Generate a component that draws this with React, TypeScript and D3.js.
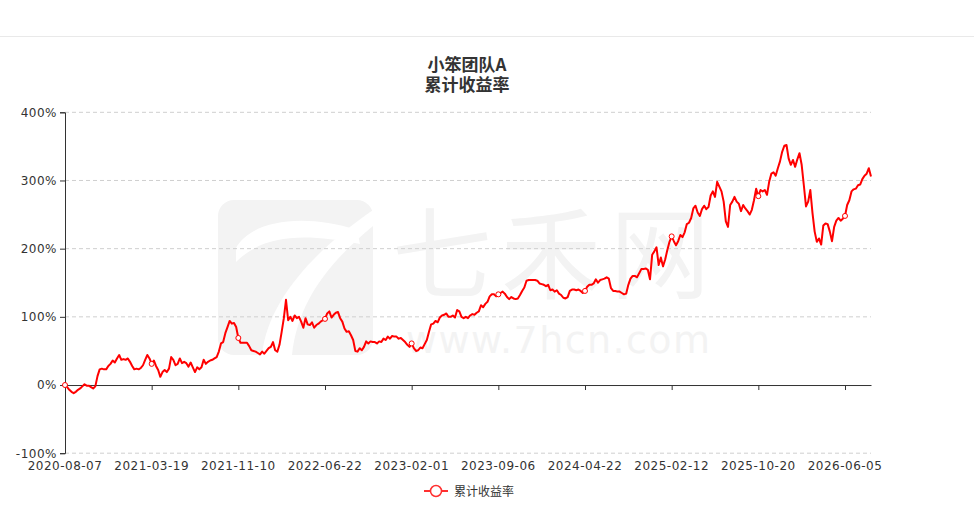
import { useEffect, useRef } from "react"
import * as d3 from "d3"

// axis labels shown every `tickEvery` categories (ECharts-style category axis)
const tickLabels = [
  "2020-08-07",
  "2021-03-19",
  "2021-11-10",
  "2022-06-22",
  "2023-02-01",
  "2023-09-06",
  "2024-04-22",
  "2025-02-12",
  "2025-10-20",
  "2026-06-05",
]
const tickEvery = 40

// cumulative return, %
const returns = [
  0, -3, -7, -10, -12, -10, -7, -5, -2, 1,
  -1, -1, -3, -5, -2, 13, 23, 24, 23, 23,
  28, 31, 36, 33, 39, 44, 37, 38, 37, 39,
  34, 28, 23, 24, 23, 25, 29, 37, 44, 39,
  31, 36, 28, 22, 12, 19, 22, 19, 24, 41,
  37, 29, 31, 39, 32, 34, 32, 27, 33, 26,
  19, 26, 23, 26, 37, 31, 34, 36, 37, 39,
  41, 49, 61, 63, 76, 85, 94, 90, 91, 85,
  69, 62, 62, 62, 62, 57, 51, 50, 49, 47,
  45, 49, 46, 50, 54, 56, 63, 51, 49, 59,
  78, 98, 125, 95, 100, 94, 102, 98, 100, 93,
  84, 98, 89, 88, 92, 84, 88, 90, 93, 95,
  97, 105, 108, 99, 103, 106, 107, 98, 93, 83,
  78, 79, 73, 66, 50, 49, 54, 51, 56, 64,
  61, 64, 63, 63, 61, 64, 63, 68, 66, 71,
  68, 72, 71, 71, 68, 69, 66, 63, 59, 56,
  61, 54, 50, 51, 55, 54, 60, 66, 78, 89,
  90, 94, 92, 99, 102, 103, 105, 100, 100, 102,
  99, 110, 108, 100, 98, 100, 98, 102, 104, 103,
  106, 108, 117, 114, 119, 122, 130, 133, 133, 130,
  133, 135, 137, 134, 129, 126, 129, 127, 126, 127,
  132, 138, 143, 153, 154, 154, 154, 154, 153, 149,
  148, 147, 145, 147, 139, 140, 137, 139, 134, 132,
  128, 127, 129, 138, 140, 140, 139, 140, 138, 135,
  138, 144, 147, 147, 149, 155, 150, 154, 155, 156,
  158, 156, 142, 138, 138, 137, 137, 135, 133, 134,
  147, 156, 160, 160, 158, 164, 170, 170, 171, 169,
  155, 191, 196, 202, 176, 187, 174, 184, 198, 210,
  218, 211, 205, 211, 220, 217, 224, 236, 238, 245,
  259, 263, 253, 248, 258, 263, 258, 261, 278, 284,
  276, 298, 291, 284, 269, 240, 232, 264, 269, 276,
  269, 266, 255, 264, 259, 255, 250, 257, 271, 288,
  277, 286, 284, 286, 279, 298, 310, 312, 307, 318,
  328, 342, 351, 352, 332, 323, 330, 320, 331, 340,
  323, 293, 262, 269, 286, 252, 225, 210, 215, 206,
  234, 237, 236, 225, 211, 232, 241, 245, 241, 244,
  248, 264, 271, 284, 287, 288, 293, 294, 302, 307,
  310, 318, 306,
]

const yTicks = [-100, 0, 100, 200, 300, 400]
const seriesName = "累计收益率"
const titleLines = ["小笨团队A", "累计收益率"]

export default function App() {
  const svgRef = useRef<SVGSVGElement>(null)

  useEffect(() => {
    if (!svgRef.current) return
    const W = 974
    const H = 513
    const left = 65
    const right = 871
    const top = 112.3
    const bottom = 453.2
    const font = "'DejaVu Sans', 'Noto Sans CJK SC', sans-serif"
    const cjk = "'Noto Sans CJK SC', sans-serif"

    const svg = d3.select(svgRef.current)
    svg.selectAll("*").remove()
    svg.attr("width", W).attr("height", H).style("font-family", font)

    // top separator
    svg.append("line")
      .attr("x1", 0).attr("x2", W).attr("y1", 36.5).attr("y2", 36.5)
      .attr("stroke", "#e9e9e9")

    // watermark
    const wm = svg.append("g")
    wm.append("rect")
      .attr("x", 218).attr("y", 200).attr("width", 155).attr("height", 155)
      .attr("rx", 16).attr("fill", "#f3f3f3")
    wm.append("path")
      .attr("d", "M236,248 C250,222 300,212 357,230 L360,244 C300,232 262,236 236,262 Z")
      .attr("fill", "#fff")
    wm.append("path")
      .attr("d", "M373,226 C330,262 298,300 292,355 L262,355 C268,298 318,248 373,210 Z")
      .attr("fill", "#fff")
    wm.append("text")
      .attr("x", 392).attr("y", 291)
      .attr("font-size", 100)
      .attr("font-family", cjk)
      .attr("textLength", 318)
      .attr("fill", "#f3f3f3")
      .text("七禾网")
    wm.append("text")
      .attr("x", 406).attr("y", 353)
      .attr("font-size", 38)
      .attr("textLength", 304)
      .attr("fill", "#f3f3f3")
      .text("www.7hcn.com")

    const x = d3.scaleLinear().domain([0, returns.length - 1]).range([left, right])
    const y = d3.scaleLinear().domain([-100, 400]).range([bottom, top])

    // grid
    svg.append("g")
      .selectAll("line")
      .data(yTicks.filter((t) => t !== 0))
      .join("line")
      .attr("x1", left).attr("x2", right)
      .attr("y1", (d) => y(d)).attr("y2", (d) => y(d))
      .attr("stroke", "#cfcfcf")
      .attr("stroke-dasharray", "4,3")

    // y axis
    const yAxis = svg.append("g")
      .attr("transform", `translate(${left},0)`)
      .call(d3.axisLeft(y).tickValues(yTicks).tickSize(5).tickPadding(3).tickFormat((d) => `${d}%`))
    yAxis.select(".domain").attr("stroke", "#333")
    yAxis.selectAll(".tick line").attr("stroke", "#333")
    yAxis.selectAll("text")
      .attr("fill", "#333").attr("font-size", 12)
      .style("letter-spacing", "0.5px")
      .attr("font-family", font)

    // x axis
    const tickIdx = tickLabels.map((_, i) => i * tickEvery)
    const xAxis = svg.append("g")
      .attr("transform", `translate(0,${y(0)})`)
      .call(
        d3.axisBottom(x)
          .tickValues(tickIdx)
          .tickSize(5)
          .tickSizeOuter(0)
          .tickFormat((d, i) => tickLabels[i])
      )
    xAxis.select(".domain").attr("stroke", "#333")
    xAxis.selectAll(".tick line").attr("stroke", "#333")
    xAxis.selectAll("text").remove()

    svg.append("g")
      .selectAll("text")
      .data(tickIdx)
      .join("text")
      .attr("x", (d) => x(d))
      .attr("y", 470)
      .attr("text-anchor", "middle")
      .attr("font-size", 12)
      .attr("fill", "#333")
      .style("letter-spacing", "0.5px")
      .text((d, i) => tickLabels[i])

    // line
    const line = d3.line<number>()
      .x((d, i) => x(i))
      .y((d) => y(d))
    svg.append("path")
      .datum(returns)
      .attr("d", line)
      .attr("fill", "none")
      .attr("stroke", "#ff0000")
      .attr("stroke-width", 2)
      .attr("stroke-linejoin", "round")

    svg.append("g")
      .selectAll("circle")
      .data(tickIdx)
      .join("circle")
      .attr("cx", (d) => x(d))
      .attr("cy", (d) => y(returns[d]))
      .attr("r", 2.5)
      .attr("fill", "#fff")
      .attr("stroke", "#ff0000")
      .attr("stroke-width", 1)

    // title: one text element, one tspan per line
    svg.append("text")
      .attr("text-anchor", "middle")
      .attr("font-size", 17)
      .attr("font-weight", "bold")
      .attr("fill", "#333")
      .attr("font-family", cjk)
      .selectAll("tspan")
      .data(titleLines)
      .join("tspan")
      .attr("x", 467)
      .attr("y", (d, i) => 70.5 + i * 20)
      .text((d) => d)

    // legend
    const lg = svg.append("g").attr("transform", "translate(424,491)")
    lg.append("line").attr("x1", 0).attr("x2", 24).attr("y1", 0).attr("y2", 0)
      .attr("stroke", "#ff3030").attr("stroke-width", 2)
    lg.append("circle").attr("cx", 12).attr("cy", 0).attr("r", 5.5)
      .attr("fill", "#fff").attr("stroke", "#ff3030").attr("stroke-width", 1.5)
    lg.append("text").attr("x", 30).attr("y", 4.5)
      .attr("font-size", 12).attr("fill", "#333")
      .attr("font-family", cjk)
      .text(seriesName)
  }, [])

  return (
    <div style={{ position: "absolute", left: 0, top: 0 }}>
      <svg ref={svgRef} style={{ display: "block" }} />
    </div>
  )
}
